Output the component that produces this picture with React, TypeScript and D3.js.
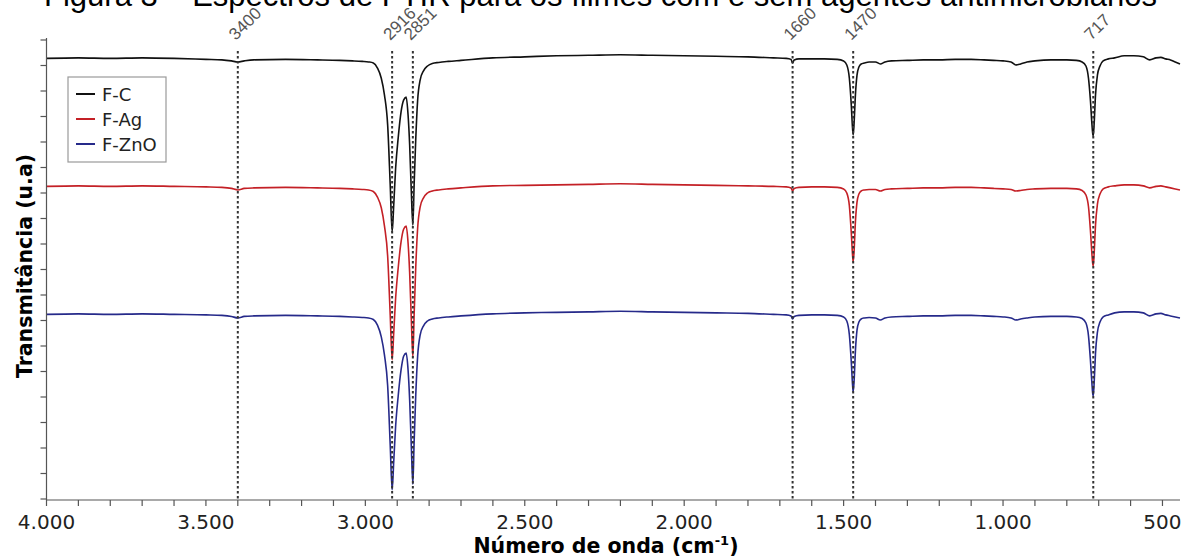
import * as d3 from "d3";

// wavenumbers (cm-1) shared by the three spectra
const WAVENUMBERS = [
  4000, 3900, 3800, 3700, 3600, 3500, 3450, 3420, 3400, 3380,
  3350, 3250, 3150, 3080, 3040, 3010, 2990, 2975, 2962, 2950,
  2940, 2930, 2922, 2916, 2911, 2905, 2897, 2888, 2880, 2872,
  2866, 2861, 2856, 2851, 2847, 2842, 2836, 2828, 2818, 2805,
  2790, 2770, 2740, 2700, 2600, 2500, 2400, 2300, 2200, 2100,
  2000, 1900, 1800, 1720, 1680, 1665, 1660, 1655, 1640, 1600,
  1560, 1520, 1500, 1490, 1482, 1476, 1472, 1470, 1467, 1463,
  1458, 1452, 1445, 1435, 1420, 1400, 1385, 1370, 1350, 1300,
  1250, 1200, 1150, 1100, 1060, 1030, 1000, 975, 960, 945,
  925, 900, 850, 800, 770, 752, 740, 732, 726, 721,
  719, 717, 714, 710, 704, 696, 686, 670, 650, 620,
  590, 560, 540, 520, 505, 490, 475, 460, 445,
];

const F_C = [
  86.4, 86.5, 86.4, 86.5, 86.4, 86.2, 86.1, 85.9, 85.7, 85.9,
  86.1, 86.2, 86.1, 86.0, 85.9, 85.8, 85.7, 85.5, 84.5, 82.5,
  79.2, 73.3, 61.6, 52.4, 57.6, 64.9, 70.8, 75.9, 78.2, 78.8,
  75.3, 69.4, 60.6, 53.7, 61.6, 70.4, 78.2, 82.2, 83.9, 84.9,
  85.4, 85.6, 85.8, 86.0, 86.5, 86.7, 86.9, 87.0, 87.1, 87.0,
  86.9, 86.8, 86.7, 86.5, 86.4, 86.2, 85.5, 86.1, 86.3, 86.3,
  86.3, 86.2, 85.9, 85.1, 82.5, 77.3, 72.7, 71.4, 73.9, 79.2,
  83.1, 84.7, 85.3, 85.5, 85.7, 85.7, 85.3, 85.7, 85.9, 86.0,
  86.1, 86.1, 86.2, 86.2, 86.1, 86.0, 85.9, 85.7, 85.1, 85.3,
  85.7, 85.9, 86.1, 86.1, 86.0, 85.7, 84.9, 82.5, 78.2, 73.3,
  71.8, 71.2, 73.9, 79.2, 83.1, 84.9, 85.9, 86.3, 86.5, 86.9,
  86.9, 86.7, 86.1, 86.5, 86.6, 86.3, 86.1, 85.7, 85.3,
];

const F_AG = [
  61.3, 61.4, 61.3, 61.4, 61.3, 61.2, 61.1, 60.9, 60.6, 60.9,
  61.0, 61.1, 61.0, 60.9, 60.8, 60.7, 60.6, 60.3, 59.2, 57.1,
  53.5, 47.6, 36.1, 27.3, 32.5, 39.4, 45.3, 50.4, 52.9, 53.5,
  50.2, 44.3, 35.5, 27.8, 36.1, 45.3, 53.1, 57.3, 59.0, 60.0,
  60.4, 60.6, 60.8, 61.0, 61.4, 61.5, 61.6, 61.7, 61.8, 61.7,
  61.6, 61.5, 61.4, 61.3, 61.2, 61.0, 60.4, 60.9, 61.1, 61.2,
  61.2, 61.1, 60.8, 60.0, 57.5, 52.2, 47.8, 46.5, 48.8, 54.3,
  58.2, 59.8, 60.4, 60.6, 60.7, 60.7, 60.4, 60.7, 60.8, 60.9,
  61.0, 61.0, 61.1, 61.1, 61.0, 60.9, 60.8, 60.7, 60.4, 60.5,
  60.7, 60.8, 60.9, 60.9, 60.8, 60.5, 59.6, 57.3, 52.7, 47.8,
  46.3, 45.7, 48.4, 53.7, 57.8, 59.8, 60.8, 61.2, 61.4, 61.6,
  61.6, 61.4, 61.0, 61.3, 61.4, 61.2, 61.0, 60.8, 60.6,
];

const F_ZNO = [
  36.2, 36.3, 36.2, 36.3, 36.2, 36.1, 36.0, 35.8, 35.5, 35.8,
  35.9, 36.0, 35.9, 35.8, 35.7, 35.6, 35.5, 35.2, 34.1, 31.8,
  28.2, 22.2, 10.6, 1.8, 7.3, 14.3, 20.2, 25.3, 28.0, 28.6,
  25.3, 19.4, 10.6, 2.9, 11.2, 20.2, 28.0, 32.2, 33.9, 34.9,
  35.3, 35.5, 35.7, 35.9, 36.3, 36.5, 36.6, 36.7, 36.8, 36.7,
  36.6, 36.5, 36.4, 36.2, 36.1, 35.9, 35.3, 35.8, 36.0, 36.1,
  36.1, 36.0, 35.7, 34.9, 32.2, 26.9, 22.4, 21.0, 23.3, 29.0,
  33.1, 34.7, 35.3, 35.5, 35.6, 35.5, 35.1, 35.5, 35.7, 35.8,
  35.9, 35.9, 36.0, 36.0, 35.9, 35.8, 35.7, 35.5, 35.1, 35.3,
  35.5, 35.7, 35.8, 35.8, 35.7, 35.4, 34.5, 32.0, 27.3, 22.4,
  20.8, 20.2, 23.1, 28.6, 32.7, 34.7, 35.7, 36.1, 36.5, 36.7,
  36.7, 36.5, 35.9, 36.3, 36.4, 36.1, 35.9, 35.7, 35.5,
];

const SERIES_NAMES = ["F-C", "F-Ag", "F-ZnO"];
const SERIES_COLORS = ["#111111", "#c42026", "#262a8a"];
const PEAKS = [3400, 2916, 2851, 1660, 1470, 717];
const X_TICKS = [4000, 3500, 3000, 2500, 2000, 1500, 1000, 500];

const TITLE = "Figura 3 – Espectros de FTIR para os filmes com e sem agentes antimicrobianos";

const App = () => {
  const width = 1184;
  const height = 559;

  const x = d3.scaleLinear().domain([4000, 445]).range([46.5, 1180]);
  const y = d3.scaleLinear().domain([0, 90]).range([499, 40]);
  const axisY = 500;

  const line = d3
    .line<number>()
    .x((_, i) => x(WAVENUMBERS[i]))
    .y((d) => y(d))
    .curve(d3.curveMonotoneX);

  const series = [F_C, F_AG, F_ZNO].map((values, i) => ({
    name: SERIES_NAMES[i],
    color: SERIES_COLORS[i],
    values,
  }));

  const fmt = d3
    .formatLocale({ decimal: ",", thousands: ".", grouping: [3], currency: ["", ""] })
    .format(",");

  const minorTicks = d3.range(500, 4001, 100);
  const yTicks = d3.range(0, 91, 5);

  const font = "'DejaVu Sans', Verdana, sans-serif";

  return (
    <svg
      width={width}
      height={height}
      style={{ position: "absolute", left: 0, top: 0, background: "#fff" }}
    >
      {/* caption of the figure, cut by the top edge as in the source */}
      <text x={44} y={6} fontFamily="'Liberation Sans', Arial, sans-serif" fontSize={31} fill="#000">
        {TITLE}
      </text>

      {/* spectra */}
      {series.map((s) => (
        <path key={s.name} d={line(s.values) || ""} fill="none" stroke={s.color} strokeWidth={1.6} />
      ))}

      {/* peak markers */}
      {PEAKS.map((p) => (
        <g key={p}>
          <line
            x1={x(p)}
            x2={x(p)}
            y1={51}
            y2={axisY}
            stroke="#333"
            strokeWidth={2}
            strokeDasharray="2.5,2.5"
          />
          <text
            transform={`translate(${x(p) - 2},${41}) rotate(-45)`}
            fontFamily="'Liberation Sans', Arial, sans-serif"
            fontSize={17}
            fill="#555"
          >
            {p}
          </text>
        </g>
      ))}

      {/* y axis */}
      <line x1={x(4000)} x2={x(4000)} y1={38} y2={axisY} stroke="#555" strokeWidth={1.2} />
      {yTicks.map((t) => (
        <line key={t} x1={x(4000) - 6} x2={x(4000)} y1={y(t)} y2={y(t)} stroke="#555" strokeWidth={1.2} />
      ))}

      {/* x axis */}
      <line x1={x(4000)} x2={1180} y1={axisY} y2={axisY} stroke="#555" strokeWidth={1.2} />
      {minorTicks.map((t) => (
        <line key={t} x1={x(t)} x2={x(t)} y1={axisY} y2={axisY + 6} stroke="#555" strokeWidth={1.2} />
      ))}
      {X_TICKS.map((t) => (
        <text key={t} x={x(t)} y={529} textAnchor="middle" fontFamily={font} fontSize={20} fill="#222">
          {fmt(t)}
        </text>
      ))}

      <text x={606} y={553} textAnchor="middle" fontFamily={font} fontSize={20.5} fontWeight="bold" fill="#000">
        Número de onda (cm
        <tspan dy={-8} fontSize={13}>-1</tspan>
        <tspan dy={8}>)</tspan>
      </text>
      <text
        transform="translate(32,266) rotate(-90)"
        textAnchor="middle"
        fontFamily={font}
        fontSize={20.5}
        fontWeight="bold"
        fill="#000"
      >
        Transmitância (u.a)
      </text>

      {/* legend */}
      <rect x={68} y={77} width={98} height={85} fill="#fff" stroke="#9a9a9a" strokeWidth={1.2} />
      {series.map((s, i) => (
        <g key={s.name} transform={`translate(76,${94 + i * 25})`}>
          <line x1={0} x2={19} y1={0} y2={0} stroke={s.color} strokeWidth={2} />
          <text x={26} y={6.5} fontFamily={font} fontSize={18} fill="#222">
            {s.name}
          </text>
        </g>
      ))}
    </svg>
  );
};

export default App;
